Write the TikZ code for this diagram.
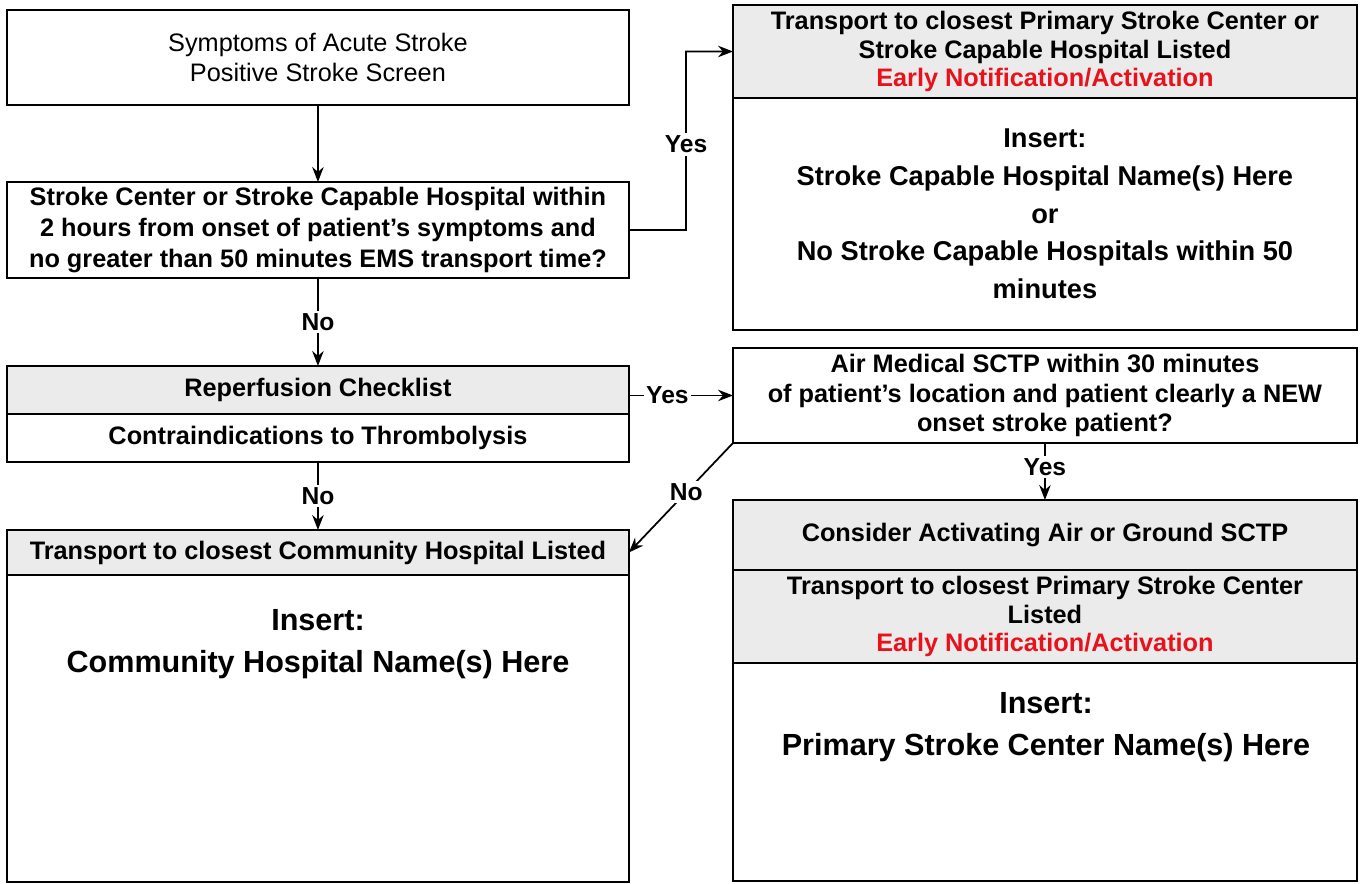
\documentclass[tikz,border=0pt]{standalone}
\usepackage{fontspec}
\setmainfont{Liberation Sans}
\usetikzlibrary{arrows.meta,positioning}
\definecolor{hdrgray}{RGB}{235,235,235}
\definecolor{notered}{RGB}{232,18,28}

\tikzset{
  box/.style={draw, line width=1.1pt, outer sep=0pt, align=center, inner sep=1pt,
    font=\fontsize{14.4}{16}\selectfont\bfseries},
  leftbox/.style={box, minimum width=12.44cm},
  rightbox/.style={box, minimum width=12.48cm},
  hdr/.style={fill=hdrgray},
  bigtxt/.style={align=center, font=\fontsize{17.4}{24}\selectfont\bfseries},
  lbl/.style={fill=white, inner sep=1.5pt, font=\fontsize{14}{16}\selectfont\bfseries},
  arr/.style={-{Stealth[length=8.5pt,width=6.5pt]}, line width=1pt}
}

\begin{document}
\begin{tikzpicture}[x=0.02cm, y=-0.02cm]
  \useasboundingbox (0,0) rectangle (1362,884);

  % Left column
  \node[leftbox, minimum height=1.9cm, anchor=north west, font=\fontsize{14.4}{17}\selectfont] (symp) at (7,10)
    {Symptoms of Acute Stroke\\Positive Stroke Screen};
  \node[leftbox, minimum height=1.92cm, anchor=north west, font=\fontsize{14.4}{17.5}\selectfont\bfseries] (scq) at (7,182)
    {Stroke Center or Stroke Capable Hospital within\\2 hours from onset of patient’s symptoms and\\no greater than 50 minutes EMS transport time?};
  \node[leftbox, hdr, minimum height=0.96cm, anchor=north west] (rhead) at (7,366) {Reperfusion Checklist};
  \node[leftbox, minimum height=0.96cm, below=0pt of rhead] (rlow) {Contraindications to Thrombolysis};
  \node[leftbox, hdr, minimum height=0.9cm, anchor=north west] (fhead) at (7,530) {Transport to closest Community Hospital Listed};
  \node[leftbox, minimum height=6.14cm, below=0pt of fhead] (fbody) {};
  \node[bigtxt] (fname) at (318,644) {Insert:\\Community Hospital Name(s) Here};

  % Right column
  \node[rightbox, hdr, minimum height=1.86cm, anchor=north west] (chead) at (733,5)
    {Transport to closest Primary Stroke Center or\\Stroke Capable Hospital Listed\\\textcolor{notered}{Early Notification/Activation}};
  \node[rightbox, minimum height=4.64cm, below=0pt of chead, font=\fontsize{15.5}{21.5}\selectfont\bfseries] (cbody)
    {Insert:\\Stroke Capable Hospital Name(s) Here\\or\\No Stroke Capable Hospitals within 50\\minutes};
  \node[rightbox, minimum height=1.9cm, anchor=north west, font=\fontsize{14.4}{16.7}\selectfont\bfseries] (airq) at (733,348)
    {Air Medical SCTP within 30 minutes\\of patient’s location and patient clearly a NEW\\onset stroke patient?};
  \node[rightbox, hdr, minimum height=1.4cm, anchor=north west] (ghead) at (733,500) {Consider Activating Air or Ground SCTP};
  \node[rightbox, hdr, minimum height=1.86cm, below=0pt of ghead] (gmid)
    {Transport to closest Primary Stroke Center\\Listed\\\textcolor{notered}{Early Notification/Activation}};
  \node[rightbox, minimum height=4.36cm, below=0pt of gmid] (gbody) {};
  \node[bigtxt] (gname) at (1046,727) {Insert:\\Primary Stroke Center Name(s) Here};

  % Connectors
  \coordinate (yesbend) at (686,230);
  \draw[arr] (symp) -- (scq);
  \draw[arr] (scq.east) -- (yesbend) |- node[lbl, pos=0.24] {Yes} (chead.west);
  \draw[arr] (scq) -- node[lbl] {No} (rhead);
  \draw[arr] (rhead.east |- airq.west) -- node[lbl, pos=0.37] {Yes} (airq.west);
  \draw[arr] (rlow) -- node[lbl] {No} (fhead);
  \draw[arr] (airq.south west) -- node[lbl, pos=0.45] {No} (fhead.east);
  \draw[arr] (airq) -- node[lbl, pos=0.42] {Yes} (ghead);
\end{tikzpicture}
\end{document}
